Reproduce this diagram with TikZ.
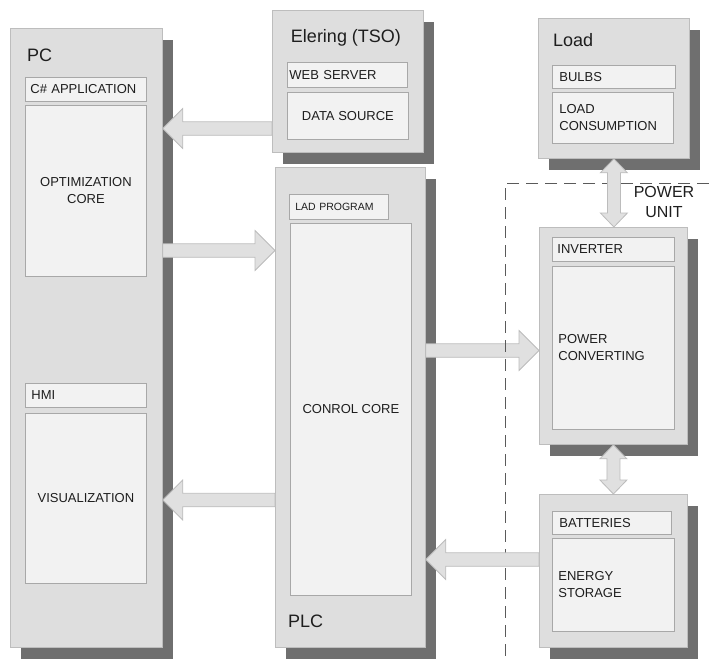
\documentclass[tikz,border=0pt]{standalone}
\usepackage{fontspec}
\setmainfont{Liberation Sans}
\usetikzlibrary{calc,shadows}

\definecolor{unitfill}{HTML}{DEDEDE}
\definecolor{unitedge}{HTML}{BDBDBD}
\definecolor{partfill}{HTML}{F2F2F2}
\definecolor{partedge}{HTML}{A8A8A8}
\definecolor{shadegray}{HTML}{6F6F6F}
\definecolor{arrowfill}{HTML}{E0E0E0}
\definecolor{arrowedge}{HTML}{BCBCBC}
\definecolor{inkgray}{HTML}{1E1E1E}
\definecolor{dashgray}{HTML}{5A5A5A}

\tikzset{
  unitbox/.style={draw=unitedge, fill=unitfill, anchor=north west, inner sep=0pt, line width=0.8pt,
    drop shadow={shadow xshift=11pt, shadow yshift=-12pt, fill=shadegray, draw=none, opacity=1}},
  partbox/.style={draw=partedge, fill=partfill, anchor=north west, line width=0.8pt, inner sep=0pt,
    text=inkgray, font=\fontsize{13}{17}\selectfont, align=center},
  tagbox/.style={partbox, align=left, inner xsep=5pt},
  unitname/.style={text=inkgray, font=\fontsize{18}{22}\selectfont, inner sep=0pt},
  puname/.style={text=inkgray, font=\fontsize{16}{20}\selectfont, inner sep=0pt, align=center},
  pudash/.style={draw=dashgray, line width=0.9pt, dash pattern=on 12pt off 7pt},
  fatarrow/.style={draw=arrowedge, fill=arrowfill, line width=0.8pt, line join=miter},
  fatright/.style={to path={let \p1=(\tikztostart), \p2=(\tikztotarget) in
    (\x1,\y1+6.75pt) -- (\x2-20pt,\y1+6.75pt) -- (\x2-20pt,\y1+20pt) -- (\x2,\y1)
    -- (\x2-20pt,\y1-20pt) -- (\x2-20pt,\y1-6.75pt) -- (\x1,\y1-6.75pt) -- cycle}},
  fatleft/.style={to path={let \p1=(\tikztostart), \p2=(\tikztotarget) in
    (\x1,\y1+6.75pt) -- (\x2+20pt,\y1+6.75pt) -- (\x2+20pt,\y1+20pt) -- (\x2,\y1)
    -- (\x2+20pt,\y1-20pt) -- (\x2+20pt,\y1-6.75pt) -- (\x1,\y1-6.75pt) -- cycle}},
  fatboth/.style={to path={let \p1=(\tikztostart), \p2=(\tikztotarget) in
    (\x1,\y1) -- (\x1+13.5pt,\y1-14pt) -- (\x1+6.5pt,\y1-14pt) -- (\x1+6.5pt,\y2+14pt)
    -- (\x1+13.5pt,\y2+14pt) -- (\x1,\y2) -- (\x1-13.5pt,\y2+14pt) -- (\x1-6.5pt,\y2+14pt)
    -- (\x1-6.5pt,\y1-14pt) -- (\x1-13.5pt,\y1-14pt) -- cycle}}
}

\begin{document}
\begin{tikzpicture}[x=1pt, y=-1pt]
\useasboundingbox (0,0) rectangle (709,661);

% PC
\node[unitbox, minimum width=152pt, minimum height=619pt] (pc) at (10,28) {};
\node[unitname, anchor=west] (pcname) at (27,55) {PC};
\node[tagbox, text width=111pt, minimum height=24pt] (csharp) at (25,77) {C\# APPLICATION};
\node[partbox, minimum width=121pt, minimum height=171pt] (optcore) at (25,105) {OPTIMIZATION\\CORE};
\node[tagbox, inner xsep=6pt, text width=109pt, minimum height=24pt] (hmi) at (25,383) {HMI};
\node[partbox, minimum width=121pt, minimum height=170pt] (visual) at (25,413) {VISUALIZATION};

% Elering
\node[unitbox, minimum width=151pt, minimum height=142pt] (elering) at (272,10) {};
\node[unitname] (eleringname) at (346,38) {Elering (TSO)};
\node[tagbox, inner xsep=2pt, text width=116pt, minimum height=25pt] (websrv) at (287,62) {WEB SERVER};
\node[partbox, minimum width=121pt, minimum height=47pt] (datasrc) at (287,92) {DATA SOURCE};

% PLC
\node[unitbox, minimum width=150pt, minimum height=480pt] (plc) at (275,167) {};
\node[tagbox, font=\fontsize{10.5}{12}\selectfont, inner xsep=6pt, text width=87pt, minimum height=25pt] (ladprog) at (289,194) {LAD PROGRAM};
\node[partbox, minimum width=121pt, minimum height=372pt] (ctrlcore) at (290,223) {CONROL CORE};
\node[unitname, anchor=west] (plcname) at (288,621) {PLC};

% Load
\node[unitbox, minimum width=151pt, minimum height=140pt] (load) at (538,18) {};
\node[unitname, anchor=west] (loadname) at (553,40) {Load};
\node[tagbox, inner xsep=7pt, text width=109pt, minimum height=23pt] (bulbs) at (552,65) {BULBS};
\node[tagbox, inner xsep=7pt, text width=107pt, minimum height=51pt] (loadcons) at (552,92) {LOAD\\CONSUMPTION};

% power unit
\node[unitbox, minimum width=148pt, minimum height=217pt] (inverter) at (539,227) {};
\node[tagbox, text width=112pt, minimum height=24pt] (invtag) at (552,237) {INVERTER};
\node[tagbox, inner xsep=6pt, text width=110pt, minimum height=163pt] (powconv) at (552,266) {POWER\\CONVERTING};
\node[unitbox, minimum width=148pt, minimum height=153pt] (battery) at (539,494) {};
\node[tagbox, inner xsep=7pt, text width=105pt, minimum height=23pt] (batttag) at (552,511) {BATTERIES};
\node[tagbox, inner xsep=6pt, text width=110pt, minimum height=93pt] (energy) at (552,538) {ENERGY\\STORAGE};
\node[puname] (punit) at (664,202) {POWER\\UNIT};

\coordinate (pucorner) at (505,183);
\coordinate (puright) at (709,183);
\coordinate (pubottom) at (505,661);

% arrows
\draw[fatarrow] (elering.west |- 0,128.5) to[fatleft] (pc.east |- 0,128.5);
\draw[fatarrow] (pc.east |- 0,250.5) to[fatright] (plc.west |- 0,250.5);
\draw[fatarrow] (plc.west |- 0,500) to[fatleft] (pc.east |- 0,500);
\draw[fatarrow] (plc.east |- 0,350.5) to[fatright] (inverter.west |- 0,350.5);
\draw[pudash] (puright) -- (pucorner) -- (pubottom);
\draw[fatarrow] (battery.west |- 0,559.5) to[fatleft] (plc.east |- 0,559.5);
\draw[fatarrow] (load.south) to[fatboth] (inverter.north);
\draw[fatarrow] (inverter.south) to[fatboth] (battery.north);
\end{tikzpicture}
\end{document}
